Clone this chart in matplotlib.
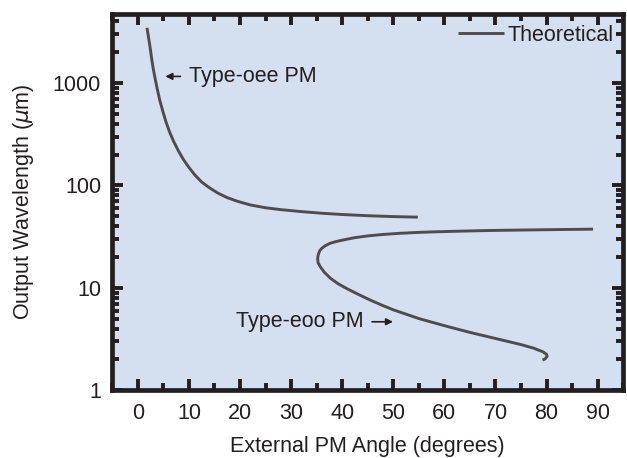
import matplotlib
matplotlib.use("Agg")
import matplotlib.pyplot as plt
from matplotlib.ticker import FixedLocator, MultipleLocator, LogLocator, NullFormatter

plt.rcParams['font.family'] = ['Liberation Sans', 'DejaVu Sans']

# Type-oee PM branch (angle in degrees, wavelength in um)
oee_angle = [1.8, 2.1, 2.4, 2.7, 3.0, 3.4, 3.8, 4.3, 4.9, 5.5, 6.2, 7.0, 7.9, 8.9,
             10.0, 11.2, 12.5, 14.0, 15.7, 17.5, 19.5, 22.0, 25.0, 28.0, 32.0,
             36.0, 40.0, 45.0, 50.0, 54.8]
oee_wave = [3460, 2800, 2250, 1750, 1400, 1100, 880, 680, 530, 420, 335, 270, 220, 180,
            150, 126, 108, 95, 84, 76, 70, 64.5, 60.5, 58, 55.5,
            53.5, 52, 50.6, 49.6, 49]

# Type-eoo PM branch
eoo_angle = [89.1, 83.0, 77.6, 72.0, 67.8, 62.5, 57.9, 54.5, 51.4, 48.0, 44.9, 42.5,
             40.3, 38.8, 37.7, 36.7, 36.0, 35.6, 35.4, 35.25, 35.2, 35.3, 35.7,
             36.5, 37.7, 39.2, 41.0, 43.2, 45.5, 47.8, 50.0, 55.0, 60.0, 65.0,
             70.0, 75.0, 77.5, 79.3, 80.0, 80.1, 79.7, 79.2]
eoo_wave = [37.4, 37.1, 36.8, 36.5, 36.2, 35.7, 35.2, 34.7, 34.1, 33.2, 32.1, 30.9,
            29.4, 28.3, 27.3, 25.8, 24.3, 23.0, 21.7, 20.3, 19.0, 17.5, 16.1,
            14.2, 12.4, 10.96, 9.77, 8.61, 7.59, 6.76, 6.10, 5.01, 4.27, 3.67,
            3.20, 2.79, 2.57, 2.37, 2.24, 2.14, 2.02, 1.97]

x_ticks = [0, 10, 20, 30, 40, 50, 60, 70, 80, 90]
y_ticks = [1, 10, 100, 1000]
y_tick_labels = ['1', '10', '100', '1000']

ink = '#231f20'
curve = '#4d4d4f'
bg = '#d4dff0'
fs = 15.5

fig = plt.figure(figsize=(6.27, 4.58), dpi=100)
ax = fig.add_axes([0.179, 0.148, 0.815, 0.821])
ax.set_facecolor(bg)

ax.plot(oee_angle, oee_wave, color=curve, lw=2.1, solid_capstyle='butt',
        solid_joinstyle='round', label='Theoretical')
ax.plot(eoo_angle, eoo_wave, color=curve, lw=2.1, solid_capstyle='butt',
        solid_joinstyle='round')

ax.set_yscale('log')
ax.set_xlim(-5, 95)
ax.set_ylim(1, 4700)

ax.xaxis.set_major_locator(FixedLocator(x_ticks))
ax.xaxis.set_minor_locator(MultipleLocator(5))
ax.yaxis.set_major_locator(FixedLocator(y_ticks))
ax.set_yticklabels(y_tick_labels)
ax.yaxis.set_minor_locator(LogLocator(base=10, subs=range(2, 10), numticks=20))
ax.yaxis.set_minor_formatter(NullFormatter())

for s in ax.spines.values():
    s.set_linewidth(3.4)
    s.set_color(ink)

ax.tick_params(which='both', direction='in', top=True, right=True, color=ink)
ax.tick_params(which='major', length=8, width=2.8, labelsize=fs, labelcolor=ink)
ax.tick_params(axis='x', which='major', pad=9)
ax.tick_params(axis='y', which='major', pad=8)
ax.tick_params(which='minor', length=5, width=2.8)

ax.set_xlabel('External PM Angle (degrees)', fontsize=fs, color=ink, labelpad=9)
ax.set_ylabel(r'Output Wavelength ($\mu$m)', fontsize=fs, color=ink, labelpad=12)

ax.annotate('', xy=(4.85, 1160), xytext=(8.9, 1160),
            arrowprops=dict(arrowstyle='-|>', color=ink, lw=1.2, mutation_scale=10))
ax.text(10.1, 1160, 'Type-oee PM', fontsize=fs, color=ink, va='center', ha='left')

ax.annotate('', xy=(50.5, 4.66), xytext=(45.3, 4.66),
            arrowprops=dict(arrowstyle='-|>', color=ink, lw=1.2, mutation_scale=10))
ax.text(44.2, 4.66, 'Type-eoo PM', fontsize=fs, color=ink, va='center', ha='right')

leg = ax.legend(loc='center right', bbox_to_anchor=(0.982, 0.944), frameon=False,
                fontsize=fs, handlelength=2.1, handletextpad=0.2, borderpad=0,
                borderaxespad=0)
for t in leg.get_texts():
    t.set_color(ink)

fig.savefig('out.png', dpi=100)
